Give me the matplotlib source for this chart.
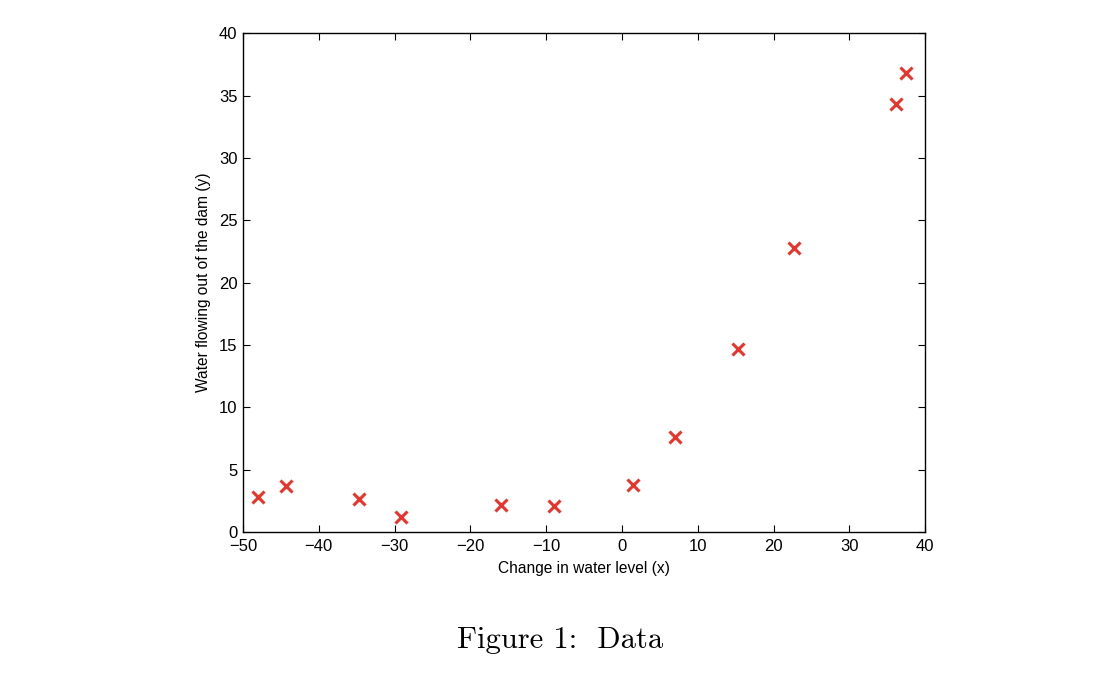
import matplotlib
matplotlib.use("Agg")
import matplotlib.pyplot as plt

x_change = [-15.9368, -29.1530, 36.1895, 37.4922, -48.0588, -8.9415,
            15.3078, -34.7063, 1.3892, -44.3838, 7.0135, 22.7627]
y_flow = [2.1343, 1.1733, 34.3591, 36.8380, 2.8090, 2.1211,
          14.7103, 2.6142, 3.7402, 3.7317, 7.6277, 22.7524]
x_ticks = [-50, -40, -30, -20, -10, 0, 10, 20, 30, 40]
y_ticks = [0, 5, 10, 15, 20, 25, 30, 35, 40]

plt.rcParams['font.family'] = ['Liberation Sans', 'DejaVu Sans']
plt.rcParams['axes.unicode_minus'] = True

fig = plt.figure(figsize=(11.2, 6.8), dpi=100)
ax = fig.add_axes([0.217, 0.2176, 0.609, 0.7334])
ax.plot(x_change, y_flow, linestyle='none', marker='x', color='#e8342a',
        markersize=9, markeredgewidth=2.2)
ax.set_xlim(-50, 40)
ax.set_ylim(0, 40)
ax.set_xticks(x_ticks)
ax.set_yticks(y_ticks)
ax.set_xticklabels([str(t).replace('-', '\u2212') for t in x_ticks])
ax.tick_params(direction='in', top=True, right=True, length=5, width=0.8,
               labelsize=12, colors='black')
ax.tick_params(axis='x', pad=5)
ax.tick_params(axis='y', pad=4)
for s in ax.spines.values():
    s.set_linewidth(1.0)
ax.set_xlabel('Change in water level (x)', fontsize=11.2, labelpad=5)
ax.set_ylabel('Water flowing out of the dam (y)', fontsize=11.2, labelpad=6)

fig.text(0.5, 0.047, 'Figure 1:  Data', ha='center', va='baseline',
         fontsize=22, family=['cmr10', 'DejaVu Serif'])

fig.savefig('out.png', dpi=100)
